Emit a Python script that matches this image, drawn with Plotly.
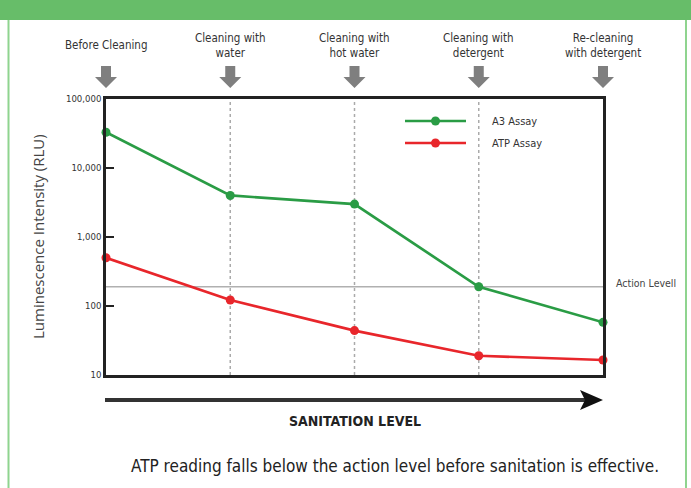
import plotly.graph_objects as go

# ---- data ----
stages = ["Before Cleaning", "Cleaning with<br>water", "Cleaning with<br>hot water",
          "Cleaning with<br>detergent", "Re-cleaning<br>with detergent"]
stage_pos = [0, 1, 2, 3, 4]
series_names = ["A3 Assay", "ATP Assay"]
a3_values = [33000, 4000, 3000, 190, 58]
atp_values = [500, 122, 44, 19, 16.5]
action_level = 190
y_tickvals = [10, 100, 1000, 10000, 100000]
y_ticktext = ["10", "100", "1,000", "10,000", "100,000"]

# ---- layout geometry (pixels) ----
W, H = 691, 488
L, R, T, B = 106, 603, 99, 375
upx = (R - L) / 4.0
def px(x):
    return (x - L) / (R - L)
def py(y):
    return (B - y) / (B - T)
def cx(s):
    return L + s * upx

COND = "Liberation Sans Narrow, DejaVu Sans Condensed, Arial Narrow, sans-serif"
GREEN = "#2a9c45"
RED = "#e8262b"
colors = [GREEN, RED]

fig = go.Figure()
for name, vals, col in zip(series_names, [a3_values, atp_values], colors):
    fig.add_trace(go.Scatter(x=stage_pos, y=vals, mode="lines+markers", name=name,
                             line=dict(color=col, width=2.7), marker=dict(size=9, color=col),
                             cliponaxis=False, showlegend=False))

shapes = []
# header band and side borders
shapes.append(dict(type="rect", xref="paper", yref="paper", x0=px(0), x1=px(W), y0=py(20), y1=py(0),
                   fillcolor="#67bd69", line=dict(width=0), layer="below"))
for bx in (8.5, 686):
    shapes.append(dict(type="line", xref="paper", yref="paper", x0=px(bx), x1=px(bx), y0=py(20), y1=py(H),
                       line=dict(color="#8fd48f", width=2)))
# dashed stage lines
for s in stage_pos[1:4]:
    shapes.append(dict(type="line", xref="x", yref="paper", x0=s, x1=s, y0=0, y1=1,
                       line=dict(color="#aaaaaa", width=1.5, dash="dot"), layer="below"))
# action level line
shapes.append(dict(type="line", xref="x", yref="y", x0=0, x1=4, y0=action_level, y1=action_level,
                   line=dict(color="#b0b0b0", width=1.3), layer="below"))
# down arrows above stages
for s in stage_pos:
    c = cx(s)
    pts = [(c - 5, 66), (c + 5, 66), (c + 5, 77), (c + 11, 77), (c, 88), (c - 11, 77), (c - 5, 77)]
    path = "M " + " L ".join(f"{px(a)},{py(b)}" for a, b in pts) + " Z"
    shapes.append(dict(type="path", xref="paper", yref="paper", path=path,
                       fillcolor="#7f7f7f", line=dict(width=0)))
# sanitation arrow
shapes.append(dict(type="line", xref="paper", yref="paper", x0=px(105), x1=px(590), y0=py(400), y1=py(400),
                   line=dict(color="#333333", width=4)))
pts = [(580, 390), (603, 400), (580, 410), (585, 400)]
shapes.append(dict(type="path", xref="paper", yref="paper",
                   path="M " + " L ".join(f"{px(a)},{py(b)}" for a, b in pts) + " Z",
                   fillcolor="#111111", line=dict(width=0)))

annotations = []
# manual legend
for i, (name, col) in enumerate(zip(series_names, colors)):
    ly = 121 + i * 22
    shapes.append(dict(type="line", xref="paper", yref="paper", x0=px(405), x1=px(466), y0=py(ly), y1=py(ly),
                       line=dict(color=col, width=2.7)))
    shapes.append(dict(type="circle", xref="paper", yref="paper", x0=px(431), x1=px(440),
                       y0=py(ly + 4.5), y1=py(ly - 4.5), fillcolor=col, line=dict(width=0)))
    annotations.append(dict(x=px(490), y=py(ly), xref="paper", yref="paper", text=name, showarrow=False,
                            xanchor="left", yanchor="middle",
                            font=dict(family=COND, size=11, color="#333333")))

for s, lab in zip(stage_pos, stages):
    annotations.append(dict(x=px(cx(s)), y=py(45), xref="paper", yref="paper", text=lab, showarrow=False,
                            font=dict(family=COND, size=11.5, color="#333333"), align="center",
                            xanchor="center", yanchor="middle"))
annotations.append(dict(x=px(614), y=py(283), xref="paper", yref="paper", text="Action Levell",
                        showarrow=False, xanchor="left", yanchor="middle",
                        font=dict(family=COND, size=10.5, color="#444444")))
annotations.append(dict(x=px(38), y=py(237), xref="paper", yref="paper",
                        text="Luminescence Intensity (RLU)", textangle=-90, showarrow=False,
                        xanchor="center", yanchor="middle",
                        font=dict(family="Open Sans, Liberation Sans, sans-serif", size=15, color="#444444")))
annotations.append(dict(x=px(355), y=py(421), xref="paper", yref="paper", text="<b>SANITATION LEVEL</b>",
                        showarrow=False, xanchor="center", yanchor="middle",
                        font=dict(family=COND, size=14, color="#222222")))
annotations.append(dict(x=px(395), y=py(466), xref="paper", yref="paper",
                        text="ATP reading falls below the action level before sanitation is effective.",
                        showarrow=False, xanchor="center", yanchor="middle",
                        font=dict(family=COND, size=17, color="#222222")))

fig.update_layout(
    width=W, height=H,
    margin=dict(l=L, r=W - R, t=T, b=H - B),
    paper_bgcolor="white", plot_bgcolor="white",
    shapes=shapes, annotations=annotations,
    showlegend=False,
    xaxis=dict(range=[0, 4], showgrid=False, zeroline=False, showticklabels=False, ticks="",
               showline=True, mirror=True, linecolor="#222222", linewidth=2.5),
    yaxis=dict(type="log", range=[1, 5], tickvals=y_tickvals, ticktext=y_ticktext,
               showgrid=False, zeroline=False, ticks="inside", ticklen=8, tickwidth=2,
               tickcolor="#222222", showline=True, mirror=True, linecolor="#222222", linewidth=2.5,
               tickfont=dict(family=COND, size=9.5, color="#333333")),
)

fig.write_html("out.html", config={"displayModeBar": False},
               post_script="document.body.style.margin='0';document.body.style.overflow='hidden';")
